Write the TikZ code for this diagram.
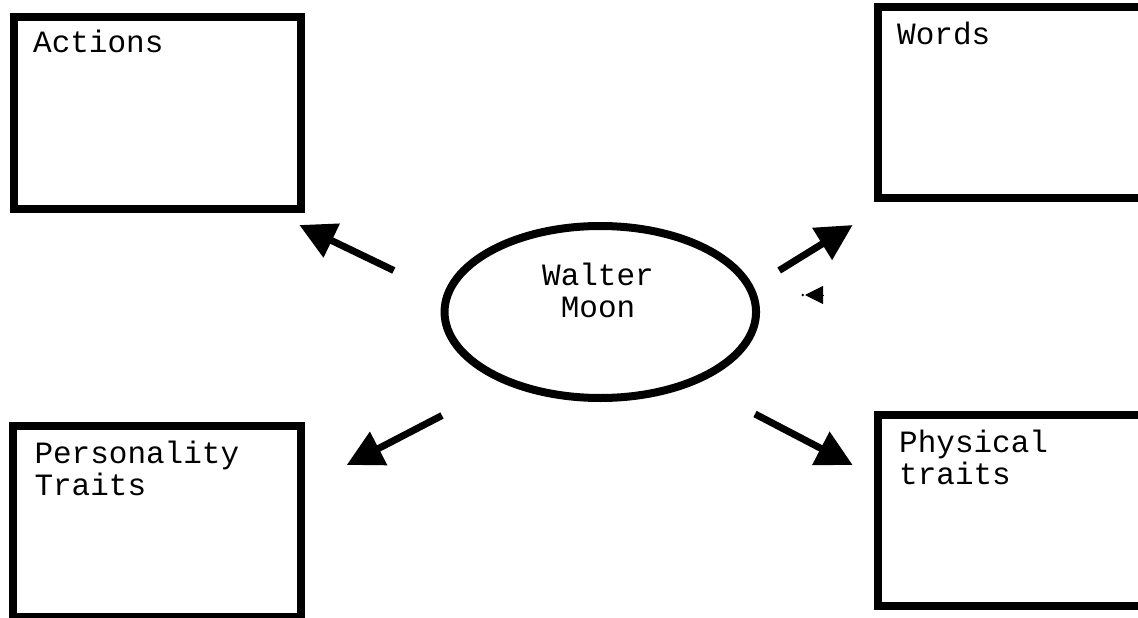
\documentclass[tikz,border=0pt]{standalone}
\usepackage{fontspec}
\setmonofont{Liberation Mono}
\usetikzlibrary{arrows.meta,shapes.geometric}

\tikzset{
  panel/.style={draw=black, line width=8pt, rectangle, inner sep=0pt, fill=white},
  hub/.style={draw=black, line width=8pt, ellipse, inner sep=0pt, fill=white},
  caption/.style={font=\ttfamily\fontsize{31}{32}\selectfont, inner sep=0pt, align=left},
  link/.style={line width=7pt, -{Triangle[length=36pt,width=36pt]}},
}

\begin{document}
\begin{tikzpicture}[x=1pt, y=-1pt]
  \useasboundingbox (0,0) rectangle (1138,618);

  % four trait panels
  \node[panel, minimum width=287.5pt, minimum height=192pt] (actions) at (157.25,113) {};
  \node[panel, minimum width=264.5pt, minimum height=191.3pt] (words) at (1009.75,102.35) {};
  \node[panel, minimum width=287.7pt, minimum height=191.8pt] (personality) at (157.2,521.4) {};
  \node[panel, minimum width=264.5pt, minimum height=191pt] (physical) at (1009.75,510.5) {};

  % panel headings (base anchor sits on the last line)
  \node[caption, anchor=base west] (tactions) at (33,53) {Actions};
  \node[caption, anchor=base west] (twords) at (897,45) {Words};
  \node[caption, anchor=base west] (tpers) at (34.3,495.3) {Personality\\Traits};
  \node[caption, anchor=base west] (tphys) at (899,484) {Physical\\traits};

  % central character
  \node[hub, minimum width=311.5pt, minimum height=172pt] (moon) at (600.3,312) {};
  \node[caption, align=center, anchor=base] (tmoon) at (598,317) {Walter\\Moon};

  % arrow end points
  \coordinate (a1) at (393.8,270.5);
  \coordinate (b1) at (299.3,225);
  \coordinate (a2) at (779.2,270.5);
  \coordinate (b2) at (852.7,225);
  \coordinate (a3) at (442,415.5);
  \coordinate (b3) at (346.7,465);
  \coordinate (a4) at (755,414);
  \coordinate (b4) at (852.7,465);
  \coordinate (s1) at (823,295);
  \coordinate (s2) at (805,295);

  % arrows from the centre to each panel
  \draw[link] (a1) -- (b1);
  \draw[link] (a2) -- (b2);
  \draw[link] (a3) -- (b3);
  \draw[link] (a4) -- (b4);

  % small stray arrowhead
  \draw[line width=1pt, -{Triangle[length=18pt,width=18pt]}] (s1) -- (s2);
  \fill (802.7,295) circle (1.3pt);
\end{tikzpicture}
\end{document}
